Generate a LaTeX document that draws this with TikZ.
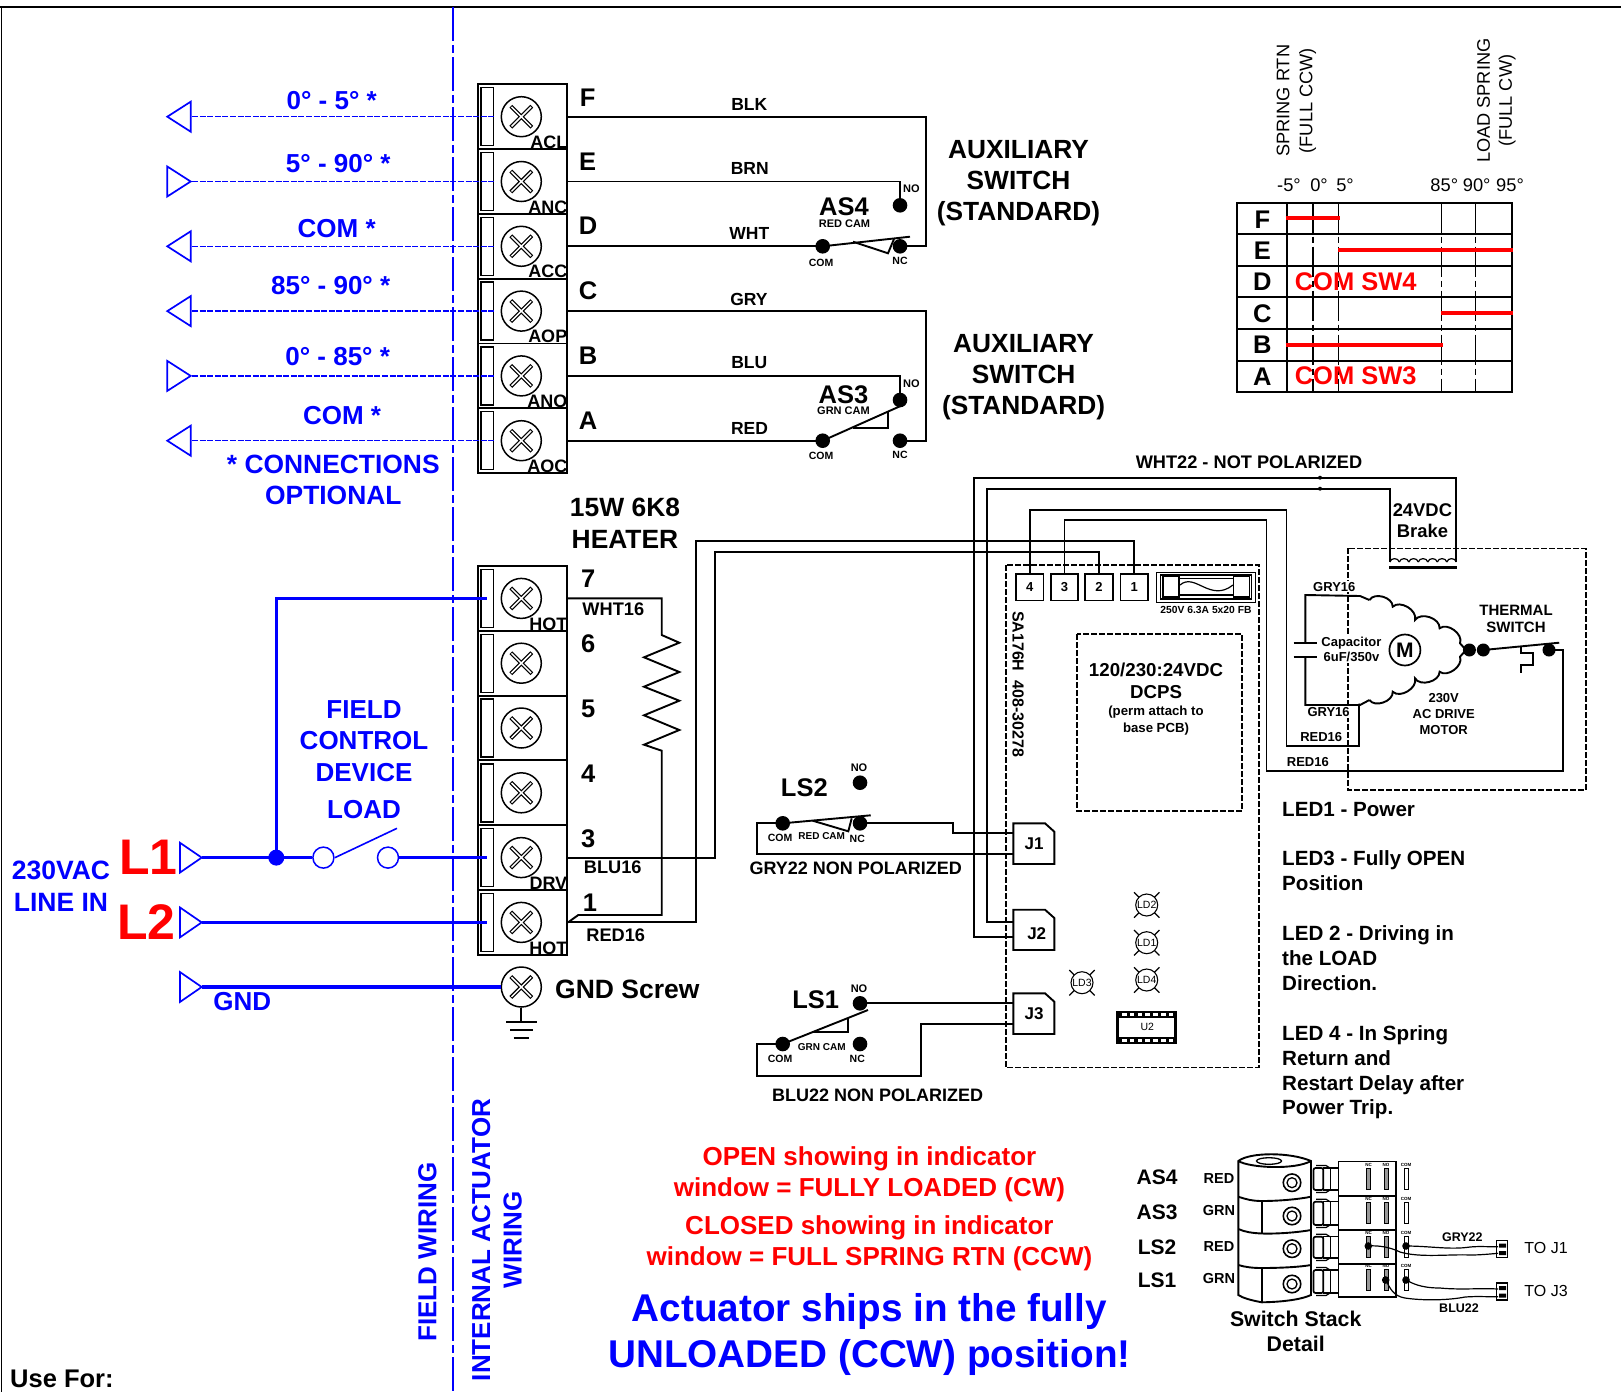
\documentclass[tikz,border=0pt]{standalone}
\usepackage{fontspec}
\setmainfont{Liberation Sans}
\usetikzlibrary{shapes.geometric}
\definecolor{myblue}{RGB}{0,0,255}
\definecolor{myred}{RGB}{255,0,0}
\tikzset{
  lab/.style={inner sep=0pt,anchor=center,align=center},
  bt/.style={lab,font=\bfseries\fontsize{#1}{#1}\selectfont},
  rt/.style={lab,font=\fontsize{#1}{#1}\selectfont},
  bl/.style 2 args={lab,font=\bfseries\fontsize{#1}{#2}\selectfont},
  rl/.style 2 args={lab,font=\fontsize{#1}{#2}\selectfont},
  wire/.style={draw=black,line width=1.9pt},
  thin wire/.style={draw=black,line width=1.2pt},
  termcell/.style={draw=black,line width=1.9pt,minimum width=89.3pt,minimum height=64.8pt,inner sep=0pt},
  slotbox/.style={draw=black,line width=1.4pt,minimum width=12.6pt,minimum height=58pt,inner sep=0pt},
  screwc/.style={draw=black,line width=1.5pt,circle,minimum size=40pt,inner sep=0pt},
  jdot/.style={circle,fill=black,minimum size=14.6pt,inner sep=0pt},
  bluedash/.style={draw=myblue,line width=1.5pt,dash pattern=on 6pt off 1.6pt},
  bluewire/.style={draw=myblue,line width=3.4pt},
  bluetri/.style={draw=myblue,line width=1.7pt,line join=miter},
  divider/.style={draw=myblue,line width=1.7pt,dash pattern=on 34pt off 4pt on 8pt off 4pt},
  blackdash/.style={draw=black,line width=1.6pt,dash pattern=on 6pt off 2pt},
  chartdash/.style={draw=black,line width=1.5pt,dash pattern=on 30pt off 4pt on 6pt off 4pt},
  redbar/.style={draw=myred,line width=3.8pt},
  connbox/.style={draw=black,line width=1.7pt,minimum width=27.6pt,minimum height=26.4pt,inner sep=0pt,font=\bfseries\fontsize{13}{13}\selectfont},
  ledc/.style={circle,draw=black,line width=1.1pt,fill=white,minimum size=22pt,inner sep=0pt,font=\fontsize{10.5}{10.5}\selectfont},
  mask/.style={fill=white},
}
\newcommand{\xmark}[2]{%
  \draw[black,line width=4pt] (#1-10.5,#2-10.5) -- (#1+10.5,#2+10.5) (#1-10.5,#2+10.5) -- (#1+10.5,#2-10.5);
  \draw[white,line width=1.5pt] (#1-9.8,#2-9.8) -- (#1+9.8,#2+9.8) (#1-9.8,#2+9.8) -- (#1+9.8,#2-9.8);}
\begin{document}
\begin{tikzpicture}[x=1pt,y=-1pt]
\useasboundingbox (0,0) rectangle (1621,1392);
\fill[white] (0,0) rectangle (1621,1392);
% frame
\draw[black,line width=2pt] (0,6.7) -- (1621,6.7);
\draw[black,line width=1.8pt] (1.5,6.7) -- (1.5,1392);
\draw[divider] (453,7) -- (453,1392);

% terminal blocks
\foreach \n/\y in {F/116.7,E/181.5,D/246.3,C/311.1,B/375.9,A/440.7,Seven/598.4,Six/663.2,Five/728,Four/792.8,Three/857.6,One/922.4}{
  \node[termcell] (t\n) at (522.35,\y) {};
  \node[slotbox] (sl\n) at (487.4,\y) {};
  \node[screwc] (sc\n) at (521.3,\y) {};
  \xmark{521.3}{\y}
}
% terminal tags
\foreach \n/\t in {F/ACL,E/ANC,D/ACC,C/AOP,B/ANO,A/AOC,Seven/HOT,Three/DRV,One/HOT}{
  \node[bt=18,anchor=south east] (tag\n) at ([shift={(-0.5,-1.3)}]t\n.south east) {\t};
}
% letters
\node[bt=25.5] (lF) at (587.7,97.3) {F};
\node[bt=25.5] (lE) at (587.7,162) {E};
\node[bt=25.5] (lD) at (588,226) {D};
\node[bt=25.5] (lC) at (588,291) {C};
\node[bt=25.5] (lB) at (588,356) {B};
\node[bt=25.5] (lA) at (588,421) {A};
\node[bt=25.5] (n7) at (588.3,579) {7};
\node[bt=25.5] (n6) at (588.3,644) {6};
\node[bt=25.5] (n5) at (588.3,709.3) {5};
\node[bt=25.5] (n4) at (588.3,773.5) {4};
\node[bt=25.5] (n3) at (588.3,838.3) {3};
\node[bt=25.5] (n1) at (590,902.7) {1};
% wire names
\node[bt=17.5] (wBLK) at (749.3,104.7) {BLK};
\node[bt=17.5] (wBRN) at (749.7,168.7) {BRN};
\node[bt=17.5] (wWHT) at (749.3,233.7) {WHT};
\node[bt=17.5] (wGRY) at (749,299) {GRY};
\node[bt=17.5] (wBLU) at (749.3,363) {BLU};
\node[bt=17.5] (wRED) at (749.5,428) {RED};

% AS4
\node[jdot] (as4no) at (900,205.3) {};
\node[jdot] (as4nc) at (900,246.3) {};
\node[jdot] (as4com) at (822.7,246.3) {};
\coordinate (as4arm) at (910,236.7);
\draw[wire] (tE.east) -| (as4no.center);
\draw[wire] (tD.east) -- (as4com.center);
\draw[wire] (tF.east) -- (926,116.7) -- (926,246.3) -- (as4nc.center);
\draw[wire] (as4com.center) -- (as4arm);
\draw[wire] (853,241.7) -- (888,253.3) -- (894,239);
\node[bt=25.5] (as4t) at (844,206.5) {AS4};
\node[bt=11] (as4cam) at (844.5,223.5) {RED CAM};
\node[bt=11] (as4tno) at (911.3,188.5) {NO};
\node[bt=10.5] (as4tcom) at (821,262.5) {COM};
\node[bt=10.5] (as4tnc) at (900,260.5) {NC};

% AS3
\node[jdot] (as3no) at (900,400) {};
\node[jdot] (as3nc) at (900,440.7) {};
\node[jdot] (as3com) at (822.7,440.7) {};
\coordinate (as3arm) at (905,404);
\draw[wire] (tB.east) -| (as3no.center);
\draw[wire] (tA.east) -- (as3com.center);
\draw[wire] (tC.east) -- (926,311.1) -- (926,440.7) -- (as3nc.center);
\draw[wire] (as3com.center) -- (as3arm);
\draw[wire] (853,428) -- (888,428) -- (888,412);
\node[bt=25.5] (as3t) at (843.5,395) {AS3};
\node[bt=11] (as3cam) at (843.5,411) {GRN CAM};
\node[bt=11] (as3tno) at (911.3,383.5) {NO};
\node[bt=10.5] (as3tcom) at (821,456) {COM};
\node[bt=10.5] (as3tnc) at (900,455) {NC};

% auxiliary switch labels
\node[bl={26.3}{31}] (aux4) at (1018.5,183) {AUXILIARY\\SWITCH\\(STANDARD)};
\node[bl={26.3}{31}] (aux3) at (1023.6,377) {AUXILIARY\\SWITCH\\(STANDARD)};

% blue optional connections
\foreach \n/\y in {F/116.7,E/181.5,D/246.3,C/311.1,B/375.9,A/440.7}{
  \coordinate (ar\n) at (192,\y);
  \draw[bluedash] (ar\n) -- (sl\n.east);
}
\draw[bluetri] (167.3,116.7) -- (190.7,101.7) -- (190.7,131.7) -- cycle;
\draw[bluetri] (190.7,181.5) -- (167.3,166.5) -- (167.3,196.5) -- cycle;
\draw[bluetri] (167.3,246.3) -- (190.7,231.3) -- (190.7,261.3) -- cycle;
\draw[bluetri] (167.3,311.1) -- (190.7,296.1) -- (190.7,326.1) -- cycle;
\draw[bluetri] (190.7,375.9) -- (167.3,360.9) -- (167.3,390.9) -- cycle;
\draw[bluetri] (167.3,440.7) -- (190.7,425.7) -- (190.7,455.7) -- cycle;
\node[bt=26,text=myblue] (b1) at (331.7,100.7) {0° - 5° *};
\node[bt=26,text=myblue] (b2) at (338.3,164) {5° - 90° *};
\node[bt=26,text=myblue] (b3) at (336.7,229) {COM *};
\node[bt=26,text=myblue] (b4) at (330.7,286) {85° - 90° *};
\node[bt=26,text=myblue] (b5) at (337.7,356.7) {0° - 85° *};
\node[bt=26,text=myblue] (b6) at (342,416) {COM *};
\node[bl={26.4}{31},text=myblue] (b7) at (333.3,480) {* CONNECTIONS\\OPTIONAL};

% field wiring
\coordinate (l1start) at (201.7,857.6);
\coordinate (l2start) at (201.7,922.4);
\coordinate (gndstart) at (201.7,987);
\node[circle,fill=myblue,minimum size=16pt,inner sep=0pt] (junc) at (276.3,857.6) {};
\node[circle,draw=myblue,line width=1.5pt,minimum size=21pt,inner sep=0pt] (swa) at (323.4,857.6) {};
\node[circle,draw=myblue,line width=1.5pt,minimum size=21pt,inner sep=0pt] (swb) at (388,857.6) {};
\coordinate (swarm) at (397,828.3);
\draw[bluewire] (l1start) -- (swa.west);
\draw[bluewire] (junc.center) |- (slSeven.center);
\draw[bluewire] (swb.east) -- (slThree.center);
\draw[bluewire] (l2start) -- (slOne.center);
\node[screwc] (scG) at (521.3,987) {};
\xmark{521.3}{987}
\draw[bluewire] (gndstart) -- (scG.west);
\draw[draw=myblue,line width=1.6pt] (335,857.6) -- (swarm);
\draw[bluetri] (201.7,857.6) -- (179.9,842.7) -- (179.9,872.6) -- cycle;
\draw[bluetri] (201.7,922.4) -- (179.9,907.4) -- (179.9,937.4) -- cycle;
\draw[bluetri] (201.7,987) -- (179.9,972) -- (179.9,1002) -- cycle;
\node[bl={26}{31.5},text=myblue] (fcd) at (364,741) {FIELD\\CONTROL\\DEVICE};
\node[bt=26,text=myblue] (load) at (364,810) {LOAD};
\node[bl={26.5}{31.5},text=myblue] (vac) at (61,886) {230VAC\\LINE IN};
\node[bt=50,text=myred] (L1) at (148.6,857.3) {L1};
\node[bt=50,text=myred] (L2) at (146.3,922) {L2};
\node[bt=26,text=myblue] (gndb) at (242.3,1001.7) {GND};
\node[bt=26.5,anchor=west] (gnds) at (555,989.5) {GND Screw};
\draw[wire] (scG.south) -- (521.3,1021.7);
\draw[wire] (506,1021.7) -- (537,1021.7) (510,1030) -- (533,1030) (513.6,1038.3) -- (529.3,1038.3);
\node[bt=26,rotate=90,text=myblue] (fw) at (427.5,1252) {FIELD WIRING};
\node[bl={26}{31.5},rotate=90,text=myblue] (iw) at (497,1240) {INTERNAL ACTUATOR\\WIRING};
\node[bt=25.5,anchor=west] (usefor) at (10,1379) {Use For:};

% heater
\node[bl={26.4}{31.7}] (htr) at (625,523) {15W 6K8\\HEATER};
\coordinate (rtop) at (661.7,635);
\coordinate (rbot) at (661.7,750.7);
\draw[wire] (tSeven.east) -- (661.7,598.4) -- (rtop) -- (679.3,642.7) -- (644,657.3) -- (679.3,672) -- (644,686.7) -- (679.3,700.7) -- (644,715.3) -- (679.3,730) -- (644,744.7) -- (rbot) -- (661.7,915) -- (578.3,915) -- (tOne.east);
\node[bt=18.2] (w16a) at (613.3,609) {WHT16};
\node[bt=18.2] (w16b) at (612.7,867.7) {BLU16};
\node[bt=18.2] (w16c) at (615.7,935.7) {RED16};

% PCB
\draw[blackdash] (1005.7,565) rectangle (1259,1067.3);
\draw[blackdash] (1077,634) rectangle (1242,811);
\draw[blackdash] (1347.8,548.3) rectangle (1585.7,790);
\node[connbox] (c4) at (1029.7,587.2) {4};
\node[connbox] (c3) at (1064.5,587.2) {3};
\node[connbox] (c2) at (1099,587.2) {2};
\node[connbox] (c1) at (1134.3,587.2) {1};
\draw[wire] (tOne.east) -- (696,922.4) -- (696,541) -| (c1.north);
\draw[wire] (tThree.east) -- (715,857.6) -- (715,551.7) -| (c2.north);
% fuse
\draw[thin wire,line width=1.5pt] (1156.7,572.7) rectangle (1255.5,602.7);
\draw[thin wire] (1160.8,575) rectangle (1251.8,599);
\draw[thin wire,fill=white] (1162.9,576.7) rectangle (1179,597);
\draw[thin wire,fill=white] (1233.5,576.7) rectangle (1249.8,597);
\draw[thin wire] (1179,578.3) -- (1233.5,578.3) (1179,595) -- (1233.5,595);
\draw[thin wire] (1180,585) .. controls (1195,572) and (1210,603) .. (1233,585);
\node[bt=10.3] (fuset) at (1206,609.7) {250V 6.3A 5x20 FB};
\node[bt=16,rotate=-90] (sa) at (1018,684) {SA176H\ \ 408-30278};
\node[bl={18.7}{21.7}] (dcps) at (1156,681) {120/230:24VDC\\DCPS};
\node[bl={13.2}{16.6}] (perm) at (1156,720.5) {(perm attach to\\base PCB)};

% connectors J
\draw[wire] (1013.3,823.3) -- (1045,823.3) -- (1054.3,831.7) -- (1054.3,864) -- (1013.3,864) -- cycle;
\draw[wire] (1013.3,909.7) -- (1045,909.7) -- (1054.3,918) -- (1054.3,950) -- (1013.3,950) -- cycle;
\draw[wire] (1013.3,993.3) -- (1045,993.3) -- (1054.3,1001.7) -- (1054.3,1034) -- (1013.3,1034) -- cycle;
\node[bt=17] (J1) at (1034,843.3) {J1};
\node[bt=17] (J2) at (1036.7,934) {J2};
\node[bt=17] (J3) at (1034,1014) {J3};
\coordinate (j1a) at (1013.3,833.3);
\coordinate (j1b) at (1013.3,854.3);
\coordinate (j2a) at (1013.3,922.3);
\coordinate (j2b) at (1013.3,936.7);
\coordinate (j3a) at (1013.3,1003.3);
\coordinate (j3b) at (1013.3,1024);

% LS2
\node[jdot] (ls2no) at (860,782.7) {};
\node[jdot] (ls2nc) at (860,823.3) {};
\node[jdot] (ls2com) at (782.7,823.3) {};
\coordinate (ls2arm) at (870.7,815.3);
\draw[wire] (ls2com.center) -- (756.7,823.3) -- (756.7,854.3) -- (j1b);
\draw[wire] (ls2nc.center) -- (953.3,823.3) -- (953.3,833.3) -- (j1a);
\draw[wire] (ls2com.center) -- (ls2arm);
\draw[wire] (812.7,820.7) -- (848.3,831.3) -- (851.7,818.3);
\node[bt=25.5] (ls2t) at (804.3,787.5) {LS2};
\node[bt=11] (ls2tno) at (859,767.3) {NO};
\node[bt=10.5] (ls2tcom) at (780,838.3) {COM};
\node[bt=10] (ls2cam) at (821.7,835.7) {RED CAM};
\node[bt=10.5] (ls2tnc) at (857.3,839.3) {NC};
\node[bt=18] (gry22) at (855.7,868.7) {GRY22 NON POLARIZED};

% LS1
\node[jdot] (ls1no) at (860,1003.3) {};
\node[jdot] (ls1nc) at (860,1044) {};
\node[jdot] (ls1com) at (782.7,1044) {};
\coordinate (ls1arm) at (868,1010);
\draw[wire] (ls1no.center) -- (j3a);
\draw[wire] (ls1com.center) -- (756.7,1044) -- (756.7,1076) -- (920.7,1076) -- (920.7,1024) -- (j3b);
\draw[wire] (ls1com.center) -- (ls1arm);
\draw[wire] (811.7,1032) -- (848.3,1032) -- (848.3,1018);
\node[bt=25.5] (ls1t) at (815.7,1000) {LS1};
\node[bt=11] (ls1tno) at (859,988.7) {NO};
\node[bt=10.5] (ls1tcom) at (780,1059.3) {COM};
\node[bt=10] (ls1cam) at (821.7,1047.3) {GRN CAM};
\node[bt=10.5] (ls1tnc) at (857.3,1059.3) {NC};
\node[bt=18] (blu22) at (877.7,1094.8) {BLU22 NON POLARIZED};

% WHT22 wires and brake
\coordinate (coilL) at (1389.8,561.7);
\coordinate (coilR) at (1456.3,561.7);
\draw[wire] (j2b) -- (974.3,936.7) -- (974.3,477.7) -- (1456.3,477.7) -- (coilR);
\draw[wire] (j2a) -- (987.3,922.3) -- (987.3,488.7) -- (1389.8,488.7) -- (coilL);
\node[circle,fill=black,minimum size=4pt,inner sep=0pt] (jd1) at (1320,477.7) {};
\node[circle,fill=black,minimum size=4pt,inner sep=0pt] (jd2) at (1320,488.7) {};
\node[bt=18.2] (wht22) at (1249,462) {WHT22 - NOT POLARIZED};
\foreach \i in {0,...,6}{
  \draw[thin wire] (1389.8+\i*9.5,562) .. controls (1389.8+\i*9.5+1,557.5) and (1389.8+\i*9.5+8.5,557.5) .. (1389.8+\i*9.5+9.5,562);
}
\draw[draw=black,line width=2.8pt] (1389.4,567.7) -- (1457,567.7);
\node[bl={18.4}{20.7}] (brake) at (1422.4,521) {24VDC\\Brake};

% motor
\coordinate (mtop) at (1360,596);
\coordinate (mbot) at (1360,705);
\coordinate (capT) at (1305.3,643.3);
\coordinate (capB) at (1305.3,656.7);
\node[circle,draw=black,line width=1.7pt,minimum size=31pt,inner sep=0pt,font=\bfseries\fontsize{21}{21}\selectfont] (mot) at (1404.9,650) {M};
\node[mask,bt=13,inner sep=1pt] (g16a) at (1334.3,586.7) {GRY16};
\node[mask,bl={13}{15.7},inner sep=1pt] (capl) at (1351.4,649.5) {Capacitor\\6uF/350v};
\node[mask,bt=13,inner sep=1pt] (g16b) at (1328.6,712.5) {GRY16};
\node[mask,bt=13,inner sep=1pt] (r16a) at (1321.2,736.7) {RED16};
\node[mask,bt=13,inner sep=1pt] (r16b) at (1307.8,761.7) {RED16};
\draw[wire] (capT) -- (1305.3,595) -- (mtop) -- (1369.4,600);
\draw[wire] (capB) -- (1305.3,705) -- (mbot) -- (1369.4,700);
\draw[wire] (1369.4,600) to[bend left=75] (1392.7,606.7) to[bend left=75] (1415,620) to[bend left=75] (1439.6,628.3) to[bend left=75] (1460,643.3) -- (1466,650) -- (1460,656.7) to[bend left=75] (1439.6,671.7) to[bend left=75] (1415,678.3) to[bend left=75] (1392.7,691.7) to[bend left=75] (1369.4,700);
\draw[wire] (1293.5,643.3) -- (1317,643.3);
\draw[wire] (1293.5,656.7) -- (1317,656.7);
\node[circle,fill=black,minimum size=13pt,inner sep=0pt] (th1) at (1469.4,650) {};
\node[circle,fill=black,minimum size=13pt,inner sep=0pt] (th2) at (1483.3,650) {};
\node[circle,fill=black,minimum size=13pt,inner sep=0pt] (th3) at (1549,650) {};
\coordinate (tharm) at (1559.2,642.7);
\node[circle,fill=black,minimum size=3.5pt,inner sep=0pt] (mj) at (1359,705) {};
\draw[wire] (th2.center) -- (tharm);
\draw[wire] (1521.2,646.7) -- (1521.2,653.3) -- (1532.6,653.3) -- (1532.6,665) -- (1521.2,665) -- (1521.2,673.3);
\node[bl={15}{17.7}] (thsw) at (1516,619) {THERMAL\\SWITCH};
\node[bl={13}{16.2}] (acm) at (1443.7,714) {230V\\AC DRIVE\\MOTOR};
% PCB to motor wires
\draw[wire] (c4.north) -- (1029.7,510) -- (1286.5,510) -- (1286.5,745.7) -- (1359,745.7) -- (mj.center);
\draw[wire] (c3.north) -- (1064.5,520) -- (1266.5,520) -- (1266.5,770.7) -- (1563.3,770.7) -- (1563.3,650) -- (th3.center);

% LEDs
\foreach \n/\x/\y in {LD2/1146.7/905,LD1/1146.7/942.7,LD4/1146.7/980,LD3/1082/982.7}{
  \draw[thin wire] (\x-12.7,\y-12.7) -- (\x+12.7,\y+12.7) (\x-12.7,\y+12.7) -- (\x+12.7,\y-12.7);
  \node[ledc] (n\n) at (\x,\y) {\n};
}
% U2
\fill[black] (1116,1011) rectangle (1177.3,1044);
\fill[white] (1119,1017.7) rectangle (1174.3,1037.3);
\foreach \i in {0,...,6}{
  \fill[white] (1122+\i*7.8,1012.8) rectangle (1126.5+\i*7.8,1016.2);
  \fill[white] (1122+\i*7.8,1038.8) rectangle (1126.5+\i*7.8,1042.2);
}
\node[rt=10.5] (U2) at (1147.3,1027.3) {U2};

% LED notes
\node[bt=20.6,anchor=west] (led1) at (1282,809.7) {LED1 - Power};
\node[bl={20.6}{24.7},anchor=west,align=left] (led3) at (1282,870.5) {LED3 - Fully OPEN\\Position};
\node[bl={20.6}{24.7},anchor=west,align=left] (led2) at (1282,958) {LED 2 - Driving in\\the LOAD\\Direction.};
\node[bl={20.6}{24.7},anchor=west,align=left] (led4) at (1282,1072.5) {LED 4 - In Spring\\Return and\\Restart Delay after\\Power Trip.};

% chart
\draw[chartdash] (1313,202.7) -- (1313,392.3);
\draw[chartdash] (1338.7,202.7) -- (1338.7,392.3);
\draw[chartdash] (1441.7,202.7) -- (1441.7,392.3);
\draw[chartdash] (1475.7,202.7) -- (1475.7,392.3);
\draw[draw=black,line width=1.8pt] (1237.3,202.7) rectangle (1512.3,392.3);
\draw[draw=black,line width=1.8pt] (1287.3,202.7) -- (1287.3,392.3);
\foreach \y in {234,265.7,297,328.7,360.7}{\draw[draw=black,line width=1.8pt] (1237.3,\y) -- (1512.3,\y);}
\draw[redbar] (1285.7,218) -- (1340,218);
\draw[redbar] (1338,249.7) -- (1513.3,249.7);
\draw[redbar] (1440.7,313.3) -- (1513.3,313.3);
\draw[redbar] (1285.7,345) -- (1443.3,345);
\node[bt=25.5,text=myred] (sw4) at (1355.7,282) {COM SW4};
\node[bt=25.5,text=myred] (sw3) at (1355.7,375.7) {COM SW3};
\node[bt=25.5] (cF) at (1262.3,220) {F};
\node[bt=25.5] (cE) at (1262.3,250.7) {E};
\node[bt=25.5] (cD) at (1262.3,282) {D};
\node[bt=25.5] (cC) at (1262.3,313.3) {C};
\node[bt=25.5] (cB) at (1262.3,345) {B};
\node[bt=25.5] (cA) at (1262.3,376.7) {A};
\node[rt=18.3] (d1) at (1289,185) {-5°};
\node[rt=18.3] (d2) at (1319,185) {0°};
\node[rt=18.3] (d3) at (1345,185) {5°};
\node[rt=18.3] (d4) at (1444.3,185) {85°};
\node[rt=18.3] (d5) at (1476.7,185) {90°};
\node[rt=18.3] (d6) at (1510,185) {95°};
\node[rl={18.2}{23},rotate=90] (sr) at (1296.5,100.7) {SPRING RTN\\(FULL CCW)};
\node[rl={18.2}{22},rotate=90] (ls) at (1496.5,100.7) {LOAD SPRING\\(FULL CW)};

% notes
\node[bl={26}{31},text=myred] (open) at (869.4,1174) {OPEN showing in indicator\\window = FULLY LOADED (CW)};
\node[bl={26}{31},text=myred] (closed) at (869.4,1243) {CLOSED showing in indicator\\window = FULL SPRING RTN (CCW)};
\node[bl={38.7}{46.5},text=myblue] (ships) at (869.4,1334.5) {Actuator ships in the fully\\UNLOADED (CCW) position!};

% switch stack
\foreach \n/\y in {AS4/1177.5,AS3/1212.5,LS2/1247.3,LS1/1280}{
  \node[bt=21] (st\n) at (1157,\y) {\n};
}
\node[bt=14.5] (c1t) at (1219,1178.3) {RED};
\node[bt=14.5] (c2t) at (1219,1210.8) {GRN};
\node[bt=14.5] (c3t) at (1219,1246.7) {RED};
\node[bt=14.5] (c4t) at (1219,1278.7) {GRN};
\draw[wire] (1238.3,1161) .. controls (1250,1152) and (1290,1152) .. (1311,1161) -- (1311,1295) .. controls (1300,1300) and (1280,1302) .. (1261.7,1302.3) .. controls (1250,1300) and (1243,1298) .. (1238.3,1295) -- cycle;
\draw[wire] (1238.3,1161) .. controls (1250,1168) and (1295,1170) .. (1311,1161);
\node[ellipse,draw=black,line width=1.3pt,minimum width=25pt,minimum height=6.6pt,inner sep=0pt] (stk) at (1269,1161) {};
\draw[wire] (1238.3,1196.7) .. controls (1245,1199) and (1252,1201) .. (1261.7,1201) .. controls (1280,1201) and (1300,1199) .. (1311,1196.7);
\draw[wire] (1238.3,1229) .. controls (1245,1232) and (1252,1233) .. (1261.7,1233.5) .. controls (1280,1234) and (1300,1232) .. (1311,1230);
\draw[wire] (1238.3,1265) .. controls (1245,1267) and (1252,1268) .. (1261.7,1268) .. controls (1280,1268) and (1300,1267) .. (1311,1265);
\draw[wire] (1261.7,1201) -- (1261.7,1233.5);
\draw[wire] (1261.7,1268) -- (1261.7,1302.3);
\foreach \y in {1182.7,1216,1248.7,1284}{
  \node[circle,draw=black,line width=1.6pt,minimum size=17.5pt,inner sep=0pt] at (1292,\y) {};
  \node[circle,draw=black,line width=1.3pt,minimum size=10pt,inner sep=0pt] at (1292,\y) {};
}
\foreach \y/\h in {1168/22,1201.7/23.3,1236.7/21.3,1270/23}{
  \draw[draw=black,line width=1.7pt,rounded corners=2pt] (1313.5,\y) rectangle (1323.3,\y+\h);
  \draw[draw=black,line width=1.2pt] (1323.3,\y) rectangle (1330.7,\y+\h);
  \draw[draw=black,line width=1.2pt] (1330.7,\y) rectangle (1338.7,\y+\h);
  \draw[draw=black,line width=1.2pt] (1316,\y-2.5) -- (1326,\y-2.5) -- (1330,\y);
  \draw[draw=black,line width=1.2pt] (1316,\y+\h+2.5) -- (1326,\y+\h+2.5) -- (1330,\y+\h);
}
\foreach \y in {1161.7,1196,1230,1263.3}{
  \draw[draw=black,line width=1.5pt] (1338.7,\y) rectangle (1396,\y+33.8);
}
\foreach \y in {1168.3,1202.3,1236.7,1269.3}{
  \fill[gray!80] (1366.7,\y) rectangle (1370.7,\y+21);
  \draw[draw=black,line width=0.7pt] (1366.7,\y) rectangle (1370.7,\y+21);
  \fill[gray!80] (1384,\y) rectangle (1388,\y+21);
  \draw[draw=black,line width=0.7pt] (1384,\y) rectangle (1388,\y+21);
  \draw[draw=black,line width=0.8pt] (1404,\y) rectangle (1408,\y+21);
  \node[bt=4.5] at (1368.7,\y-3.8) {NC};
  \node[bt=4.5] at (1386,\y-3.8) {NO};
  \node[bt=4.5] at (1406,\y-3.8) {COM};
}
\node[circle,fill=black,minimum size=7.6pt,inner sep=0pt] (p3nc) at (1368.3,1246) {};
\node[circle,fill=black,minimum size=7.6pt,inner sep=0pt] (p3com) at (1406,1246) {};
\node[circle,fill=black,minimum size=7.6pt,inner sep=0pt] (p4no) at (1385.7,1280) {};
\node[circle,fill=black,minimum size=7.6pt,inner sep=0pt] (p4com) at (1406,1280) {};
\node[draw=black,line width=1.5pt,minimum width=11pt,minimum height=17pt,inner sep=0pt] (toj1) at (1502.2,1249.2) {};
\node[draw=black,line width=1.5pt,minimum width=11pt,minimum height=17pt,inner sep=0pt] (toj3) at (1502.2,1291.7) {};
\fill[black] (1499,1243.5) rectangle (1506,1247.5) (1499,1251) rectangle (1506,1255);
\fill[black] (1499,1286) rectangle (1506,1290) (1499,1293.5) rectangle (1506,1297.5);
\draw[thin wire] (p3com.center) .. controls (1430,1246) and (1450,1250) .. (1470,1247) .. controls (1480,1246) and (1490,1247) .. (1498,1246.7);
\draw[thin wire] (p3nc.center) .. controls (1380,1245) and (1392,1248) .. (1400,1252) .. controls (1420,1258) and (1450,1254) .. (1470,1255) .. controls (1480,1255) and (1490,1254) .. (1498,1253.3);
\draw[thin wire] (p4com.center) .. controls (1412,1283) and (1420,1288) .. (1440,1288) .. controls (1460,1290) and (1480,1288) .. (1498,1289);
\draw[thin wire] (p4no.center) .. controls (1390,1288) and (1393,1296) .. (1405,1298) .. controls (1425,1301) and (1450,1300) .. (1465,1297) .. controls (1478,1296) and (1490,1297) .. (1498,1296.7);
\node[bt=12.5] (g22) at (1462.3,1236.7) {GRY22};
\node[bt=12.5] (b22) at (1459,1307.7) {BLU22};
\node[rt=16] (tj1) at (1546,1248.3) {TO J1};
\node[rt=16] (tj3) at (1546,1291) {TO J3};
\node[bl={21.3}{25.7}] (ssd) at (1295.7,1331.5) {Switch Stack\\Detail};
\end{tikzpicture}
\end{document}
